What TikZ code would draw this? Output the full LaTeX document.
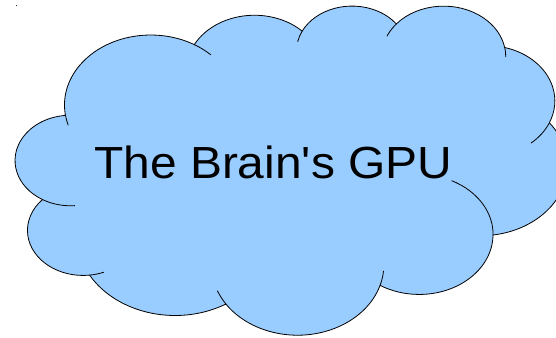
\documentclass[tikz,border=0pt]{standalone}
\usepackage{fontspec}
\newfontfamily\titlefont{Liberation Sans}
\definecolor{cloudblue}{HTML}{99CCFF}
% visual (OOXML) angle -> parametric ellipse angle
\newcommand\oovp[4]{%
  \pgfmathparse{atan2((#2)*sin(#4),(#3)*cos(#4))-(#4)}%
  \pgfmathparse{Mod(\pgfmathresult+180,360)-180+(#4)}%
  \expandafter\xdef\csname #1\endcsname{\pgfmathresult}}
\newcommand\ooprep[5]{\oovp{#1s}{#2}{#3}{#4}\oovp{#1e}{#2}{#3}{(#4)+(#5)}}
\newcommand\ooarc[3]{arc[x radius=#2, y radius=#3, start angle=\csname #1s\endcsname, end angle=\csname #1e\endcsname]}
\tikzset{
  cloudbody/.style={fill=cloudblue, draw=black, line width=0.8pt},
  cloudline/.style={draw=black, line width=0.8pt},
  titletext/.style={anchor=base west, inner sep=0pt, font=\titlefont\fontsize{45}{50}\selectfont, xscale=1.065}
}
\begin{document}
% main lobes
\ooprep{A}{67.53}{91.90}{-190.48748}{123.78053}
\ooprep{B}{53.33}{72.67}{-144.10238}{89.94523}
\ooprep{C}{43.65}{59.45}{-145.80792}{99.72302}
\ooprep{D}{48.57}{65.95}{-130.98607}{117.24173}
\ooprep{E}{53.33}{72.73}{-78.70888}{109.02692}
\ooprep{F}{67.75}{92.20}{-46.26725}{130.269}
\ooprep{G}{57.85}{78.67}{0.62502}{114.03333}
\ooprep{H}{67.52}{92.15}{22.4516}{115.17255}
\ooprep{I}{77.20}{105.43}{66.24263}{75.71102}
\ooprep{J}{43.60}{59.18}{-274.94208}{146.73557}
\ooprep{K}{43.45}{59.45}{-246.8285}{152.51885}
% inner arcs
\ooprep{aa}{67.53}{91.90}{-66.70695}{12.31935}
\ooprep{cc}{43.65}{59.45}{-145.80792}{-17.68635}
\ooprep{dd}{48.57}{65.95}{-130.98607}{-18.19538}
\ooprep{de}{48.57}{65.95}{-13.74433}{14.8589}
\ooprep{ee}{53.33}{72.73}{30.31803}{27.7515}
\ooprep{gg}{57.85}{78.67}{0.62502}{-70.91737}
\ooprep{hh}{67.52}{92.15}{22.4516}{-15.99833}
\ooprep{hi}{67.52}{92.15}{137.62415}{14.0811}
\ooprep{jj}{43.60}{59.18}{85.05792}{-11.44745}
\ooprep{kk}{43.45}{59.45}{113.1715}{-26.4295}
\ooprep{ab}{67.53}{91.90}{169.51252}{-11.86}
\begin{tikzpicture}[x=1pt,y=1pt]
\useasboundingbox (0,0) rectangle (556,-337);
\clip (0,0) rectangle (556,-337);
\fill (16.5,-5.7) circle (0.5);
\begin{scope}[shift={(15.5,-5)}, xscale=1.27662, yscale=-0.76157]
  \path[cloudbody] (39.00,143.70) coordinate (j0)
    \ooarc{A}{67.53}{91.90} coordinate (jA)
    \ooarc{B}{53.33}{72.67} coordinate (jB)
    \ooarc{C}{43.65}{59.45} coordinate (jC)
    \ooarc{D}{48.57}{65.95} coordinate (jD)
    \ooarc{E}{53.33}{72.73} coordinate (jE)
    \ooarc{F}{67.75}{92.20} coordinate (jF)
    \ooarc{G}{57.85}{78.67} coordinate (jG)
    \ooarc{H}{67.52}{92.15} coordinate (jH)
    \ooarc{I}{77.20}{105.43} coordinate (jI)
    \ooarc{J}{43.60}{59.18} coordinate (jJ)
    \ooarc{K}{43.45}{59.45} -- cycle;
  \draw[cloudline] (jA) \ooarc{aa}{67.53}{91.90};
  \draw[cloudline] (jB) \ooarc{cc}{43.65}{59.45};
  \draw[cloudline] (jC) \ooarc{dd}{48.57}{65.95};
  \draw[cloudline] (jD) \ooarc{de}{48.57}{65.95};
  \draw[cloudline] (jE) \ooarc{ee}{53.33}{72.73};
  \draw[cloudline] (jF) \ooarc{gg}{57.85}{78.67};
  \draw[cloudline] (jG) \ooarc{hh}{67.52}{92.15};
  \draw[cloudline] (jH) \ooarc{hi}{67.52}{92.15};
  \draw[cloudline] (jI) \ooarc{jj}{43.60}{59.18};
  \draw[cloudline] (jJ) \ooarc{kk}{43.45}{59.45};
  \draw[cloudline] (j0) \ooarc{ab}{67.53}{91.90};
\end{scope}
\node[titletext] (title) at (94,-178.3) {The Brain's GPU};
\end{tikzpicture}
\end{document}
